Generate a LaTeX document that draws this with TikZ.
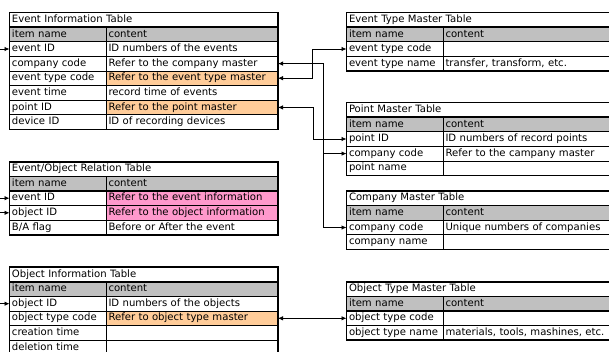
\documentclass[tikz,border=0pt]{standalone}
\usepackage{fontspec}
\setmainfont{DejaVu Sans}
\usetikzlibrary{positioning,arrows.meta}
\definecolor{headgray}{HTML}{C0C0C0}
\definecolor{reforange}{HTML}{FFCC99}
\definecolor{refpink}{HTML}{FF99CC}
\tikzset{
  cell/.style={draw, line width=0.7pt, outer sep=0pt, inner xsep=2.5pt, inner ysep=0pt,
    minimum height=14.6pt, text height=7.5pt, text depth=2.2pt, align=left,
    font=\fontsize{10.1}{12}\selectfont},
  itemcell/.style={cell, text width=91.5pt},
  lcont/.style={cell, text width=167pt},
  rcont/.style={cell, text width=172pt},
  ltitle/.style={cell, text width=263.5pt, anchor=north west},
  rtitle/.style={cell, text width=268.5pt, anchor=north west},
  frame/.style={line width=1.6pt},
  midline/.style={line width=1.2pt}
}
% one row of a table: [opts for both cells]{row above}{name}{item}{content}{content style}
\newcommand{\dbrow}[6][]{%
  \node[itemcell, #1, below right=0pt of #2.south west] (#3-a) {#4};
  \node[#6, #1, right=0pt of #3-a] (#3-b) {#5};}
% thick frame round a table: {prefix}{last row}
\newcommand{\dbframe}[2]{%
  \draw[frame] (#1-t.north west) rectangle (#2-b.south east);
  \draw[frame] (#1-t.south west) -- (#1-t.south east);
  \draw[midline] (#1-h-a.south west) -- (#1-h-b.south east);}

\begin{document}
\begin{tikzpicture}[x=1pt, y=-1pt, >={Latex[length=5pt,width=4.5pt]},
    conn/.style={line width=0.8pt}]
  \useasboundingbox (0,0) rectangle (609,351);
  \clip (0,0) rectangle (609,351);

  % event information
  \node[ltitle] (ei-t) at (9.5,12.5) {Event Information Table};
  \dbrow[fill=headgray]{ei-t}{ei-h}{item name}{content}{lcont}
  \dbrow{ei-h-a}{ei-eid}{event ID}{ID numbers of the events}{lcont}
  \dbrow{ei-eid-a}{ei-cc}{company code}{Refer to the company master}{lcont}
  \dbrow{ei-cc-a}{ei-etc}{event type code}{Refer to the event type master}{lcont, fill=reforange}
  \dbrow{ei-etc-a}{ei-time}{event time}{record time of events}{lcont}
  \dbrow{ei-time-a}{ei-pid}{point ID}{Refer to the point master}{lcont, fill=reforange}
  \dbrow{ei-pid-a}{ei-dev}{device ID}{ID of recording devices}{lcont}
  \dbframe{ei}{ei-dev}

  % event/object relation
  \node[ltitle] (eor-t) at (9.5,161.7) {Event/Object Relation Table};
  \dbrow[fill=headgray]{eor-t}{eor-h}{item name}{content}{lcont}
  \dbrow{eor-h-a}{eor-eid}{event ID}{Refer to the event information}{lcont, fill=refpink}
  \dbrow{eor-eid-a}{eor-oid}{object ID}{Refer to the object information}{lcont, fill=refpink}
  \dbrow{eor-oid-a}{eor-flag}{B/A flag}{Before or After the event}{lcont}
  \dbframe{eor}{eor-flag}

  % object information
  \node[ltitle] (oi-t) at (9.5,267.2) {Object Information Table};
  \dbrow[fill=headgray]{oi-t}{oi-h}{item name}{content}{lcont}
  \dbrow{oi-h-a}{oi-oid}{object ID}{ID numbers of the objects}{lcont}
  \dbrow{oi-oid-a}{oi-otc}{object type code}{Refer to object type master}{lcont, fill=reforange}
  \dbrow{oi-otc-a}{oi-ctime}{creation time}{}{lcont}
  \dbrow{oi-ctime-a}{oi-dtime}{deletion time}{}{lcont}
  \dbframe{oi}{oi-dtime}

  % masters
  \node[rtitle] (etm-t) at (346.5,12.5) {Event Type Master Table};
  \dbrow[fill=headgray]{etm-t}{etm-h}{item name}{content}{rcont}
  \dbrow{etm-h-a}{etm-etc}{event type code}{}{rcont}
  \dbrow{etm-etc-a}{etm-name}{event type name}{transfer, transform, etc.}{rcont}
  \dbframe{etm}{etm-name}

  \node[rtitle] (pm-t) at (346.5,102.5) {Point Master Table};
  \dbrow[fill=headgray]{pm-t}{pm-h}{item name}{content}{rcont}
  \dbrow{pm-h-a}{pm-pid}{point ID}{ID numbers of record points}{rcont}
  \dbrow{pm-pid-a}{pm-cc}{company code}{Refer to the campany master}{rcont}
  \dbrow{pm-cc-a}{pm-name}{point name}{}{rcont}
  \dbframe{pm}{pm-name}

  \node[rtitle] (cm-t) at (346.5,191) {Company Master Table};
  \dbrow[fill=headgray]{cm-t}{cm-h}{item name}{content}{rcont}
  \dbrow{cm-h-a}{cm-cc}{company code}{Unique numbers of companies}{rcont}
  \dbrow{cm-cc-a}{cm-name}{company name}{}{rcont}
  \dbframe{cm}{cm-name}

  \node[rtitle] (otm-t) at (346.5,281.8) {Object Type Master Table};
  \dbrow[fill=headgray]{otm-t}{otm-h}{item name}{content}{rcont}
  \dbrow{otm-h-a}{otm-otc}{object type code}{}{rcont}
  \dbrow{otm-otc-a}{otm-name}{object type name}{materials, tools, mashines, etc.}{rcont}
  \dbframe{otm}{otm-name}

  % references
  \draw[conn, <->] (ei-etc-b.east) -- ++(34.5,0) |- (etm-etc-a.west);
  \draw[conn, <->] (ei-pid-b.east) -- ++(35.5,0) |- (pm-pid-a.west);
  \draw[conn, <->] (ei-cc-b.east) -- ++(45,0) coordinate (cjoin) |- (cm-cc-a.west);
  \coordinate (cbranch) at (cjoin |- pm-cc-a.west);
  \draw[conn, ->] (cbranch) -- (pm-cc-a.west);
  \draw[conn, <->] (oi-otc-b.east) -- (otm-otc-a.west);

  % links coming in from the left
  \coordinate (in-ei) at ([xshift=-12pt]ei-eid-a.west);
  \coordinate (in-eore) at ([xshift=-12pt]eor-eid-a.west);
  \coordinate (in-eoro) at ([xshift=-12pt]eor-oid-a.west);
  \coordinate (in-oi) at ([xshift=-12pt]oi-oid-a.west);
  \draw[conn, ->] (in-ei) -- (ei-eid-a.west);
  \draw[conn, ->] (in-eore) -- (eor-eid-a.west);
  \draw[conn, ->] (in-eoro) -- (eor-oid-a.west);
  \draw[conn, ->] (in-oi) -- (oi-oid-a.west);
\end{tikzpicture}
\end{document}
